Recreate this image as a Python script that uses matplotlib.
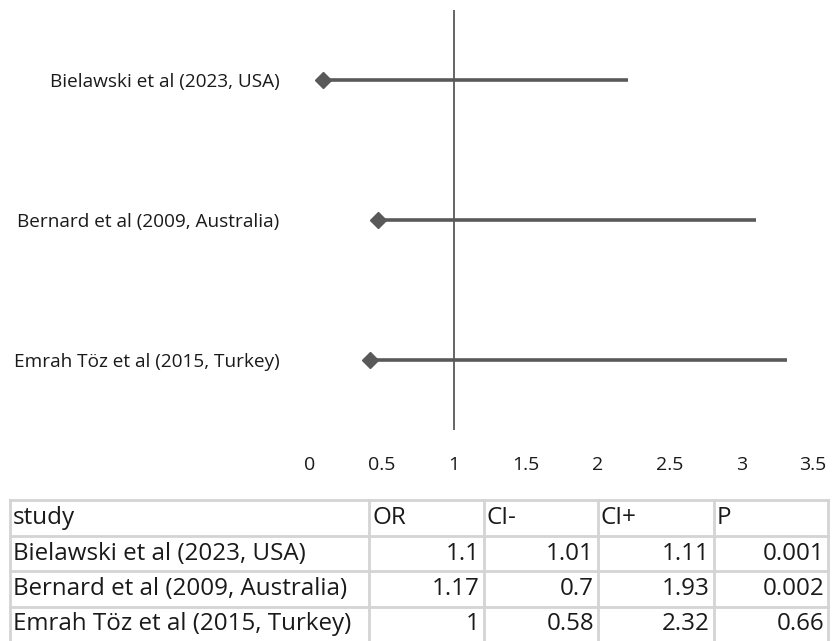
import matplotlib
matplotlib.use('Agg')
import matplotlib.pyplot as plt

# study data
studies = ['Bielawski et al (2023, USA)', 'Bernard et al (2009, Australia)', 'Emrah Töz et al (2015, Turkey)']
odds = [1.1, 1.17, 1]
ci_minus = [1.01, 0.7, 0.58]
ci_plus = [1.11, 1.93, 2.32]
p_vals = [0.001, 0.002, 0.66]
headers = ['study', 'OR', 'CI-', 'CI+', 'P']
y_pos = [2.5, 1.5, 0.5]
x_ticks = [0, 0.5, 1, 1.5, 2, 2.5, 3, 3.5]

plt.rcParams['font.family'] = ['Open Sans', 'DejaVu Sans']
grey = '#595959'
text_col = '#1a1a1a'

W, H = 836, 641
fig = plt.figure(figsize=(W / 100, H / 100), dpi=100)

# forest plot: bar spans OR - CI- .. OR + CI+, marker on the left end
ax = fig.add_axes([310 / W, 1 - 430 / H, 503 / W, 420 / H])
for y, o, lo, hi in zip(y_pos, odds, ci_minus, ci_plus):
    ax.plot([o - lo, o + hi], [y, y], color=grey, lw=2.6, solid_capstyle='butt', zorder=2)
    ax.plot([o - lo], [y], marker='D', ms=8, color=grey, zorder=3)
ax.axvline(1, color=grey, lw=1.3, zorder=1)
ax.set_xlim(0, 3.5)
ax.set_ylim(0, 3)
ax.set_xticks(x_ticks)
ax.set_xticklabels([('%g' % t) for t in x_ticks])
ax.set_yticks(y_pos)
ax.set_yticklabels(studies)
ax.tick_params(axis='both', length=0, colors=text_col)
ax.tick_params(axis='x', pad=19, labelsize=14)
ax.tick_params(axis='y', pad=22, labelsize=13.7)
for s in ax.spines.values():
    s.set_visible(False)

# data table under the plot, in pixel coordinates
tb = fig.add_axes([0, 0, 1, 1])
tb.set_xlim(0, W)
tb.set_ylim(H, 0)
tb.axis('off')
col_x = [10, 369, 484, 598, 714, 828]
row_y = [500, 536, 571, 607, 642]
line_col = '#d4d4d4'
for x in col_x:
    tb.plot([x, x], [row_y[0], row_y[-1]], color=line_col, lw=2, zorder=1)
for y in row_y:
    tb.plot([col_x[0], col_x[-1]], [y, y], color=line_col, lw=2, zorder=1)

fs = 17.4
for j, h in enumerate(headers):
    tb.text(col_x[j] + 3, (row_y[0] + row_y[1]) / 2, h, fontsize=fs,
            ha='left', va='center', color=text_col)
rows = list(zip(studies, odds, ci_minus, ci_plus, p_vals))
for i, r in enumerate(rows):
    yc = (row_y[i + 1] + row_y[i + 2]) / 2
    tb.text(col_x[0] + 3, yc, r[0], fontsize=fs, ha='left', va='center', color=text_col)
    for j, v in enumerate(r[1:], start=1):
        tb.text(col_x[j + 1] - 4, yc, '%g' % v, fontsize=fs, ha='right', va='center', color=text_col)

fig.savefig('out.png', dpi=100)
